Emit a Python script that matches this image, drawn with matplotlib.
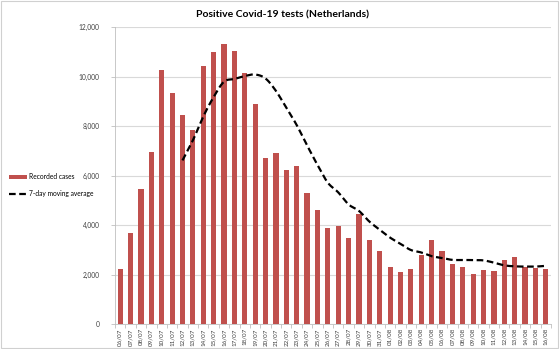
import numpy as np
import matplotlib
matplotlib.use('Agg')
import matplotlib.pyplot as plt
from matplotlib.patches import Rectangle

# dates (dd/mm)
dates = ['06/07', '07/07', '08/07', '09/07', '10/07', '11/07', '12/07', '13/07', '14/07',
         '15/07', '16/07', '17/07', '18/07', '19/07', '20/07', '21/07', '22/07', '23/07',
         '24/07', '25/07', '26/07', '27/07', '28/07', '29/07', '30/07', '31/07', '01/08',
         '02/08', '03/08', '04/08', '05/08', '06/08', '07/08', '08/08', '09/08', '10/08',
         '11/08', '12/08', '13/08', '14/08', '15/08', '16/08']

# daily positive tests
cases = [2220, 3660, 5440, 6930, 10280, 9320, 8440, 7820, 10420, 10980, 11300, 11030,
         10140, 8880, 6710, 6900, 6230, 6400, 5280, 4590, 3860, 3960, 3470, 4430,
         3410, 2950, 2320, 2110, 2210, 2770, 3380, 2940, 2410, 2300, 2030, 2180,
         2130, 2590, 2690, 2320, 2280, 2240]

# 7-day moving average (starts at 12/07)
avg_dates = dates[6:]
avg = [6610, 7420, 8380, 9170, 9790, 9900, 10020, 10080, 9920, 9420, 8740, 8040,
       7220, 6430, 5710, 5320, 4830, 4570, 4140, 3810, 3490, 3240, 2990, 2890,
       2740, 2670, 2590, 2590, 2580, 2570, 2480, 2370, 2330, 2320, 2320, 2350]

bar_color = '#C0504D'
grid_color = '#D9D9D9'

plt.rcParams['font.family'] = ['Lato', 'DejaVu Sans']

fig = plt.figure(figsize=(5.6, 3.49), dpi=100)
ax = fig.add_axes([115 / 560, 1 - 324 / 349, 436 / 560, 297 / 349])

x = np.arange(len(dates))
bars = ax.bar(x, cases, width=0.5, color=bar_color, zorder=2, label='Recorded cases')

# smooth the average line a bit, like Excel does
xa = np.arange(6, len(dates))
t = np.linspace(0, len(xa) - 1, 400)
def catmull(pts, tt):
    pts = np.asarray(pts, float)
    n = len(pts)
    out = []
    for v in tt:
        i = min(int(v), n - 2)
        s = v - i
        p0 = pts[max(i - 1, 0)]
        p1 = pts[i]
        p2 = pts[i + 1]
        p3 = pts[min(i + 2, n - 1)]
        out.append(0.5 * ((2 * p1) + (-p0 + p2) * s + (2 * p0 - 5 * p1 + 4 * p2 - p3) * s ** 2
                          + (-p0 + 3 * p1 - 3 * p2 + p3) * s ** 3))
    return np.array(out)
line, = ax.plot(catmull(xa, t), catmull(avg, t), color='black', linestyle=(0, (3, 1.6)),
                linewidth=1.6, zorder=3, label='7-day moving average')

ax.set_xlim(-0.5, len(dates) - 0.5)
ax.set_ylim(0, 12000)
ax.set_yticks(range(0, 12001, 2000))
ax.set_yticklabels(['{:,}'.format(v) for v in range(0, 12001, 2000)], fontsize=4.8, color='#404040')
ax.yaxis.grid(True, color=grid_color, linewidth=0.8, zorder=0)
ax.set_axisbelow(True)

ax.set_xticks(x)
ax.set_xticklabels(dates, rotation=90, fontsize=4.5, color='#404040')
ax.set_xticks(np.arange(-0.5, len(dates)), minor=True)
ax.tick_params(axis='x', which='major', length=0, pad=3)
ax.tick_params(axis='x', which='minor', length=3, color='#BFBFBF', width=0.6)
ax.tick_params(axis='y', length=3, color='#BFBFBF', width=0.6, pad=8)

for s in ['top', 'right']:
    ax.spines[s].set_visible(False)
ax.spines['left'].set_color('#BFBFBF')
ax.spines['bottom'].set_color('#BFBFBF')
ax.spines['left'].set_linewidth(0.6)
ax.spines['bottom'].set_linewidth(0.6)

fig.text(282 / 560, 1 - 15 / 349, 'Positive Covid-19 tests (Netherlands)', ha='center', va='center',
         fontsize=7.5, fontweight='bold', color='black')

fig.legend([bars, line], ['Recorded cases', '7-day moving average'], loc='center left',
           bbox_to_anchor=(3 / 560, 1 - 185 / 349), frameon=False, fontsize=4.8,
           handlelength=2.7, handleheight=0.45, handletextpad=0.3, labelspacing=1.4)

fig.patches.append(Rectangle((0.002, 0.003), 0.994, 0.994, transform=fig.transFigure,
                             fill=False, edgecolor='#D0D0D0', linewidth=0.8))

fig.savefig('out.png', dpi=100)
